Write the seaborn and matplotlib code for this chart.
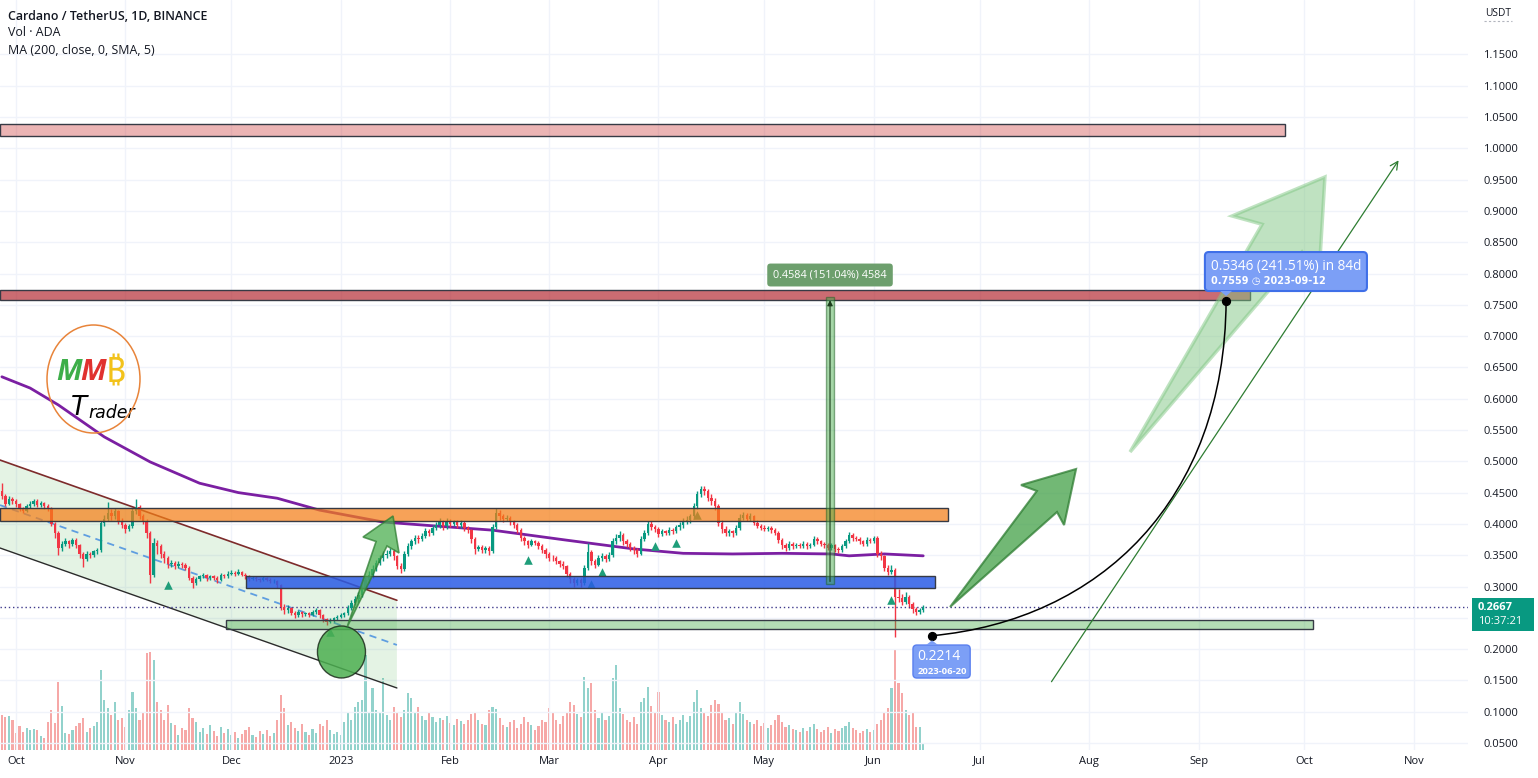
import numpy as np
import pandas as pd
import matplotlib
matplotlib.use("Agg")
import matplotlib.pyplot as plt
import seaborn as sns
from matplotlib.patches import Rectangle, Polygon, Ellipse, PathPatch, FancyArrowPatch, FancyBboxPatch
from matplotlib.path import Path

# ---------------- data (days counted from 2022-10-01) ----------------
BASE = pd.Timestamp("2022-10-01")
first_day = -4
first_open = 0.452
close = [0.445, 0.432, 0.440, 0.436, 0.431, 0.424, 0.421, 0.428, 0.432, 0.436,
         0.430, 0.433, 0.428, 0.425, 0.400, 0.385, 0.362, 0.368, 0.372, 0.368,
         0.374, 0.366, 0.352, 0.344, 0.352, 0.350, 0.356, 0.358, 0.401, 0.408,
         0.418, 0.412, 0.420, 0.405, 0.398, 0.392, 0.396, 0.420, 0.427, 0.412,
         0.405, 0.385, 0.318, 0.370, 0.365, 0.352, 0.345, 0.336, 0.338, 0.332,
         0.336, 0.334, 0.330, 0.314, 0.306, 0.312, 0.316, 0.318, 0.313, 0.316,
         0.314, 0.310, 0.318, 0.316, 0.320, 0.322, 0.320, 0.323, 0.319, 0.316,
         0.312, 0.314, 0.312, 0.310, 0.313, 0.311, 0.308, 0.309, 0.302, 0.268,
         0.262, 0.266, 0.258, 0.254, 0.259, 0.256, 0.257, 0.255, 0.259, 0.262,
         0.254, 0.248, 0.244, 0.247, 0.249, 0.252, 0.254, 0.257, 0.266, 0.274,
         0.280, 0.286, 0.298, 0.310, 0.318, 0.328, 0.338, 0.345, 0.350, 0.352,
         0.356, 0.348, 0.333, 0.328, 0.352, 0.365, 0.372, 0.378, 0.376, 0.380,
         0.388, 0.386, 0.394, 0.398, 0.403, 0.396, 0.404, 0.400, 0.403, 0.398,
         0.402, 0.393, 0.390, 0.376, 0.360, 0.363, 0.358, 0.361, 0.357, 0.395,
         0.418, 0.412, 0.408, 0.410, 0.403, 0.398, 0.390, 0.378, 0.372, 0.367,
         0.372, 0.370, 0.365, 0.358, 0.352, 0.346, 0.345, 0.340, 0.336, 0.333,
         0.320, 0.312, 0.306, 0.310, 0.305, 0.330, 0.355, 0.340, 0.335, 0.345,
         0.348, 0.344, 0.350, 0.372, 0.378, 0.383, 0.372, 0.368, 0.362, 0.358,
         0.352, 0.376, 0.386, 0.400, 0.395, 0.392, 0.384, 0.388, 0.386, 0.391,
         0.388, 0.395, 0.398, 0.404, 0.406, 0.412, 0.428, 0.448, 0.455, 0.452,
         0.442, 0.436, 0.428, 0.402, 0.392, 0.385, 0.388, 0.385, 0.394, 0.410,
         0.414, 0.408, 0.412, 0.402, 0.397, 0.394, 0.392, 0.393, 0.390, 0.386,
         0.375, 0.366, 0.362, 0.368, 0.364, 0.367, 0.365, 0.368, 0.364, 0.366,
         0.376, 0.372, 0.368, 0.366, 0.362, 0.366, 0.360, 0.358, 0.364, 0.372,
         0.382, 0.378, 0.376, 0.372, 0.368, 0.375, 0.373, 0.377, 0.352, 0.348,
         0.330, 0.323, 0.326, 0.284, 0.282, 0.276, 0.284, 0.272, 0.264, 0.260,
         0.262, 0.2667]
high = [0.466, 0.448, 0.444, 0.443, 0.439, 0.434, 0.427, 0.432, 0.436, 0.440,
        0.439, 0.437, 0.435, 0.431, 0.427, 0.403, 0.388, 0.372, 0.377, 0.375,
        0.378, 0.377, 0.368, 0.355, 0.356, 0.355, 0.359, 0.362, 0.405, 0.415,
        0.435, 0.424, 0.425, 0.423, 0.409, 0.401, 0.400, 0.425, 0.440, 0.430,
        0.416, 0.408, 0.388, 0.378, 0.375, 0.368, 0.356, 0.348, 0.342, 0.341,
        0.340, 0.339, 0.337, 0.332, 0.317, 0.315, 0.319, 0.322, 0.320, 0.319,
        0.318, 0.316, 0.321, 0.320, 0.324, 0.326, 0.325, 0.328, 0.325, 0.321,
        0.318, 0.317, 0.316, 0.314, 0.316, 0.315, 0.313, 0.312, 0.311, 0.304,
        0.272, 0.270, 0.268, 0.261, 0.262, 0.261, 0.260, 0.259, 0.262, 0.265,
        0.264, 0.256, 0.250, 0.250, 0.252, 0.255, 0.257, 0.260, 0.270, 0.278,
        0.285, 0.292, 0.303, 0.315, 0.324, 0.334, 0.342, 0.350, 0.356, 0.358,
        0.362, 0.360, 0.351, 0.337, 0.356, 0.369, 0.376, 0.383, 0.382, 0.385,
        0.393, 0.392, 0.398, 0.403, 0.409, 0.406, 0.409, 0.408, 0.407, 0.406,
        0.407, 0.405, 0.397, 0.392, 0.379, 0.367, 0.366, 0.365, 0.364, 0.400,
        0.425, 0.422, 0.416, 0.415, 0.413, 0.406, 0.401, 0.393, 0.381, 0.375,
        0.376, 0.375, 0.373, 0.368, 0.361, 0.355, 0.350, 0.348, 0.343, 0.340,
        0.335, 0.323, 0.315, 0.314, 0.313, 0.334, 0.370, 0.358, 0.344, 0.350,
        0.354, 0.352, 0.355, 0.377, 0.384, 0.388, 0.386, 0.376, 0.371, 0.365,
        0.361, 0.380, 0.391, 0.405, 0.404, 0.399, 0.395, 0.392, 0.391, 0.395,
        0.394, 0.399, 0.403, 0.409, 0.412, 0.416, 0.434, 0.453, 0.461, 0.460,
        0.456, 0.447, 0.441, 0.431, 0.406, 0.396, 0.392, 0.391, 0.398, 0.416,
        0.419, 0.418, 0.417, 0.415, 0.406, 0.400, 0.398, 0.397, 0.396, 0.394,
        0.389, 0.378, 0.370, 0.372, 0.371, 0.370, 0.370, 0.372, 0.371, 0.370,
        0.380, 0.379, 0.375, 0.371, 0.369, 0.370, 0.368, 0.363, 0.368, 0.376,
        0.387, 0.385, 0.381, 0.379, 0.375, 0.379, 0.378, 0.381, 0.380, 0.356,
        0.351, 0.334, 0.334, 0.330, 0.296, 0.288, 0.292, 0.287, 0.276, 0.268,
        0.266, 0.270]
low = [0.440, 0.428, 0.430, 0.432, 0.427, 0.420, 0.417, 0.419, 0.425, 0.429,
       0.427, 0.427, 0.424, 0.420, 0.396, 0.378, 0.350, 0.356, 0.364, 0.362,
       0.365, 0.362, 0.345, 0.331, 0.340, 0.346, 0.347, 0.352, 0.355, 0.396,
       0.404, 0.406, 0.408, 0.400, 0.393, 0.386, 0.388, 0.393, 0.416, 0.408,
       0.400, 0.378, 0.305, 0.315, 0.352, 0.346, 0.338, 0.330, 0.331, 0.328,
       0.329, 0.330, 0.326, 0.310, 0.298, 0.302, 0.309, 0.313, 0.309, 0.310,
       0.311, 0.306, 0.308, 0.313, 0.314, 0.318, 0.317, 0.318, 0.316, 0.312,
       0.309, 0.310, 0.309, 0.307, 0.308, 0.308, 0.305, 0.305, 0.298, 0.262,
       0.256, 0.258, 0.254, 0.250, 0.251, 0.252, 0.253, 0.252, 0.253, 0.256,
       0.250, 0.244, 0.238, 0.241, 0.244, 0.246, 0.249, 0.251, 0.255, 0.262,
       0.270, 0.276, 0.283, 0.294, 0.305, 0.314, 0.324, 0.334, 0.340, 0.346,
       0.349, 0.343, 0.328, 0.322, 0.325, 0.348, 0.360, 0.368, 0.370, 0.372,
       0.377, 0.381, 0.382, 0.390, 0.394, 0.391, 0.392, 0.395, 0.396, 0.394,
       0.394, 0.389, 0.385, 0.370, 0.352, 0.356, 0.353, 0.354, 0.350, 0.354,
       0.392, 0.406, 0.403, 0.404, 0.399, 0.393, 0.385, 0.372, 0.367, 0.362,
       0.364, 0.366, 0.360, 0.353, 0.345, 0.341, 0.341, 0.336, 0.331, 0.328,
       0.315, 0.306, 0.300, 0.302, 0.300, 0.302, 0.327, 0.335, 0.330, 0.332,
       0.340, 0.339, 0.341, 0.347, 0.368, 0.372, 0.366, 0.363, 0.357, 0.352,
       0.347, 0.350, 0.372, 0.382, 0.390, 0.387, 0.379, 0.380, 0.382, 0.383,
       0.384, 0.385, 0.391, 0.394, 0.400, 0.402, 0.408, 0.424, 0.443, 0.446,
       0.437, 0.430, 0.422, 0.397, 0.386, 0.380, 0.381, 0.379, 0.382, 0.391,
       0.406, 0.404, 0.404, 0.398, 0.393, 0.390, 0.388, 0.388, 0.386, 0.382,
       0.370, 0.360, 0.356, 0.358, 0.360, 0.361, 0.361, 0.362, 0.360, 0.361,
       0.364, 0.368, 0.364, 0.362, 0.358, 0.358, 0.355, 0.354, 0.355, 0.361,
       0.369, 0.373, 0.372, 0.368, 0.364, 0.365, 0.369, 0.370, 0.347, 0.343,
       0.325, 0.318, 0.320, 0.220, 0.276, 0.270, 0.272, 0.266, 0.258, 0.255,
       0.256, 0.259]
volume = [350, 330, 340, 300, 170, 240, 180, 220, 200, 210,
          200, 140, 120, 280, 400, 270, 680, 440, 170, 160,
          200, 240, 270, 320, 180, 220, 240, 280, 800, 500,
          420, 350, 480, 300, 320, 230, 400, 580, 420, 300,
          370, 970, 980, 900, 480, 400, 300, 450, 270, 250,
          150, 220, 200, 420, 320, 280, 180, 220, 160, 250,
          190, 140, 230, 170, 210, 150, 180, 120, 160, 200,
          230, 150, 130, 190, 160, 200, 140, 170, 300, 550,
          420, 250, 280, 220, 190, 260, 180, 150, 210, 170,
          260, 240, 300, 200, 160, 180, 150, 280, 380, 300,
          430, 480, 500, 950, 370, 620, 400, 380, 720, 350,
          300, 430, 380, 330, 400, 570, 520, 380, 430, 340,
          300, 380, 330, 280, 320, 300, 340, 270, 250, 310,
          290, 260, 300, 360, 380, 300, 260, 250, 400, 430,
          410, 320, 250, 230, 280, 300, 220, 260, 330, 280,
          250, 200, 240, 300, 280, 420, 380, 300, 260, 340,
          370, 480, 450, 360, 330, 730, 620, 670, 400, 320,
          380, 300, 340, 720, 850, 420, 360, 300, 280, 330,
          260, 480, 520, 630, 440, 380, 580, 350, 300, 280,
          330, 260, 300, 350, 280, 340, 480, 600, 420, 380,
          340, 450, 500, 460, 380, 300, 320, 260, 380, 480,
          360, 300, 280, 260, 300, 240, 270, 220, 250, 300,
          350, 280, 230, 250, 210, 200, 180, 220, 190, 230,
          260, 210, 180, 200, 230, 170, 210, 190, 220, 240,
          280, 220, 200, 170, 190, 210, 180, 200, 260, 300,
          380, 420, 620, 1000, 670, 570, 400, 350, 370, 230,
          230, 70]

# 200-day SMA (sampled)
ma_days = [-4, 4, 12, 25, 38, 52, 63, 74, 86, 104, 118, 135, 156, 175, 189, 203, 217, 231, 236, 246, 257]
ma_vals = [0.635, 0.617, 0.590, 0.539, 0.499, 0.465, 0.450, 0.441, 0.422, 0.403, 0.397, 0.390,
           0.374, 0.360, 0.353, 0.352, 0.353, 0.352, 0.349, 0.352, 0.349]

# signal markers
marker_days = [43, 89, 145, 163, 166, 181, 187, 193, 248]
marker_prices = [0.302, 0.227, 0.342, 0.304, 0.323, 0.365, 0.369, 0.414, 0.278]

# horizontal zones: (start day, end day, low price, high price, color, alpha)
zones = [
    (-4.53, 359.5, 1.020, 1.039, "#c62828", 0.35),
    (-4.53, 349.6, 0.758, 0.774, "#b3262f", 0.68),
    (-4.53, 264.0, 0.405, 0.425, "#f57f17", 0.72),
    (65.2, 260.3, 0.298, 0.317, "#2a5ce6", 0.85),
    (59.5, 367.4, 0.232, 0.2465, "#4caf50", 0.42),
]

last_price = 0.2667
price_ticks = [0.05, 0.10, 0.15, 0.20, 0.30, 0.35, 0.40, 0.45, 0.50, 0.55, 0.60, 0.65, 0.70,
               0.75, 0.80, 0.85, 0.90, 0.95, 1.00, 1.05, 1.10, 1.15]
grid_prices = [0.05 * k for k in range(1, 24)]

# ---------------- figure ----------------
sns.set_theme(style="white")
plt.rcParams['font.family'] = ['Open Sans', 'DejaVu Sans']
TXT = "#131722"

W, H = 1538, 778
fig = plt.figure(figsize=(W / 100, H / 100), dpi=100)
fig.patch.set_facecolor("white")
rect = [0, 28 / H, 1468 / W, 750 / H]
axv = fig.add_axes(rect)
ax = fig.add_axes(rect)
ax.patch.set_alpha(0)

XMIN, XMAX = -4.533, 411.33
YMIN, YMAX = 0.03882, 1.2369
ax.set_xlim(XMIN, XMAX)
ax.set_ylim(YMIN, YMAX)
axv.set_xlim(XMIN, XMAX)
axv.set_ylim(0, 7500)

days = np.arange(first_day, first_day + len(close))
opens = [first_open] + close[:-1]
up = [c >= o for o, c in zip(opens, close)]
cand_col = ["#089981" if u else "#f23645" for u in up]
vol_col = ["#26a69a" if u else "#ef5350" for u in up]

# grid
for gp in grid_prices:
    ax.axhline(gp, color="#f0f3fa", lw=1, zorder=0)
months = pd.date_range("2022-10-01", "2023-11-01", freq="MS")
month_days = [(m - BASE).days for m in months]
month_labels = ["2023" if (m.month == 1) else m.strftime("%b") for m in months]
for md in month_days:
    ax.axvline(md, color="#f0f3fa", lw=1, zorder=0)

# volume
axv.bar(days, volume, width=0.6, color=vol_col, alpha=0.5, linewidth=0)
axv.xaxis.set_visible(False)
axv.yaxis.set_visible(False)
for s in axv.spines.values():
    s.set_visible(False)

# descending channel
ch_x0, ch_x1 = -4.53, 107.9
ax.add_patch(Polygon([(ch_x0, 0.502), (ch_x1, 0.278), (ch_x1, 0.1379), (ch_x0, 0.3615)],
                     closed=True, facecolor="#4caf50", alpha=0.15, edgecolor="none", zorder=1))
ax.plot([ch_x0, ch_x1], [0.502, 0.278], color="#7d2b2b", lw=1.2, zorder=2)
ax.plot([ch_x0, ch_x1], [0.3615, 0.1379], color="#2b2b2b", lw=1.0, zorder=2)
ax.plot([ch_x0, ch_x1], [0.430, 0.2066], color="#5f9ee0", lw=1.3, ls=(0, (4, 3)), zorder=2)

# moving average
sns.lineplot(x=ma_days, y=ma_vals, ax=ax, color="#7b1fa2", linewidth=2, zorder=2, legend=False)

# candles
ax.vlines(days, low, high, colors=cand_col, lw=1, zorder=3)
body_bottom = [min(o, c) for o, c in zip(opens, close)]
body_h = [max(abs(c - o), 0.0012) for o, c in zip(opens, close)]
ax.bar(days, body_h, bottom=body_bottom, width=0.68, color=cand_col, linewidth=0, zorder=4)

# signal markers
ax.scatter(marker_days, marker_prices, marker="^", s=38, color="#1f9e7a", zorder=5, linewidths=0)

# zones
for d0, d1, p0, p1, col, a in zones:
    ax.add_patch(Rectangle((d0, p0), d1 - d0, p1 - p0, facecolor=col, alpha=a,
                           edgecolor="none", zorder=5))
    ax.add_patch(Rectangle((d0, p0), d1 - d0, p1 - p0, facecolor="none",
                           edgecolor="#363a45", lw=1, zorder=5))

# current price line
ax.axhline(last_price, color="#3f3a8c", lw=1, ls=(0, (1, 2)), zorder=3)

# circle
ax.add_patch(Ellipse((92.2, 0.1954), 13.6, 0.083, facecolor="#4caf50", alpha=0.85,
                     edgecolor="#1d2d1d", lw=1, zorder=6))

# green arrows
arrow_a = [(93.8, 0.2353), (105.1, 0.3647), (108.5, 0.3535), (106.8, 0.4126), (98.3, 0.379), (102.0, 0.3719)]
ax.add_patch(Polygon(arrow_a, closed=True, facecolor="#4caf50", alpha=0.75, edgecolor="#2e7d32", lw=1.2, zorder=6))
arrow_b = [(264.6, 0.2673), (294.9, 0.419), (296.9, 0.3982), (300.3, 0.4877), (284.7, 0.4621), (289.2, 0.4526)]
ax.add_patch(Polygon(arrow_b, closed=True, facecolor="#43a047", alpha=0.75, edgecolor="#2e7d32", lw=1.5, zorder=6))
arrow_c = [(315.6, 0.5149), (364.3, 0.8343), (369.1, 0.7944), (370.8, 0.9542), (344.5, 0.8919), (353.0, 0.8786)]
ax.add_patch(Polygon(arrow_c, closed=True, facecolor="#81c784", alpha=0.5, edgecolor="#81c784", lw=2.5, zorder=6))

# thin projection arrow
ax.add_patch(FancyArrowPatch((292.9, 0.1442), (392.1, 0.9845), arrowstyle="->", mutation_scale=14,
                             color="#2e7d32", lw=0.9, zorder=6))

# measured-move column
ax.add_patch(Rectangle((229.5, 0.3035), 2.2, 0.4584, facecolor="#4caf50", alpha=0.5,
                       edgecolor="#1b5e20", lw=1, zorder=6))
ax.add_patch(FancyArrowPatch((230.6, 0.3035), (230.6, 0.7619), arrowstyle="-|>", mutation_scale=8,
                             color="#1b3d1b", lw=0.8, zorder=7))
ax.text(230.6, 0.7976, "0.4584 (151.04%) 4584", ha="center", va="center", color="white",
        fontsize=7.8, zorder=9,
        bbox=dict(boxstyle="round,pad=0.55,rounding_size=0.3", fc="#6d9f6d", ec="none"))

# curved projection path
curve = Path([(259.5, 0.2214), (307.1, 0.2465), (342.5, 0.438), (342.8, 0.7559)],
             [Path.MOVETO, Path.CURVE4, Path.CURVE4, Path.CURVE4])
ax.add_patch(PathPatch(curve, facecolor="none", edgecolor="black", lw=1.1, zorder=7))
ax.scatter([259.5, 342.8], [0.2214, 0.7559], s=32, color="black", zorder=8)

# price/date labels
asp = (1 / 626) / (1 / 3.53)
ax.add_patch(FancyBboxPatch((254.1, 0.1538), 16.2, 0.0527, boxstyle="round,pad=0,rounding_size=1.1",
                            mutation_aspect=asp, fc="#7c9ff6", ec="#5a80ef", lw=1, zorder=8))
ax.add_patch(Polygon([(257.8, 0.2065), (261.2, 0.2065), (259.5, 0.2140)], closed=True,
                     fc="#7c9ff6", ec="none", zorder=8))
ax.text(255.3, 0.1885, "0.2214", color="white", fontsize=10, va="center", ha="left", zorder=9)
ax.text(255.3, 0.1650, "2023-06-20", color="white", fontsize=6.8, fontweight="bold",
        va="center", ha="left", zorder=9)

ax.add_patch(FancyBboxPatch((336.8, 0.7720), 45.9, 0.0623, boxstyle="round,pad=0,rounding_size=1.1",
                            mutation_aspect=asp, fc="#7c9ff6", ec="#3f6fe8", lw=1.5, zorder=8))
ax.add_patch(Polygon([(341.1, 0.7722), (344.5, 0.7722), (342.8, 0.7640)], closed=True,
                     fc="#7c9ff6", ec="none", zorder=8))
ax.text(338.6, 0.8115, "0.5346 (241.51%) in 84d", color="white", fontsize=9.8, va="center",
        ha="left", zorder=9)
ax.text(338.6, 0.7880, "0.7559 \u25F7 2023-09-12", color="white", fontsize=7.0, fontweight="bold",
        va="center", ha="left", zorder=9, family=["DejaVu Sans"])

# axes styling
ax.yaxis.tick_right()
ax.set_yticks(price_ticks)
ax.set_yticklabels([f"{p:.4f}" for p in price_ticks])
ax.tick_params(axis="y", length=0, pad=11, labelsize=8, labelcolor=TXT)
ax.set_xticks(month_days)
ax.set_xticklabels(month_labels)
ax.tick_params(axis="x", length=0, pad=4, labelsize=8, labelcolor=TXT)
ax.grid(False)
for s in ax.spines.values():
    s.set_visible(False)
ax.set_xlabel("")
ax.set_ylabel("")

# price tag
def fx(x):
    return x / W

def fy(y):
    return 1 - y / H

fig.patches.append(Rectangle((fx(1472), fy(631)), 62 / W, 33 / H, transform=fig.transFigure,
                             facecolor="#089981", edgecolor="none", zorder=10))
fig.text(fx(1478), fy(607.5), f"{last_price:.4f}", color="white", fontsize=8, fontweight="bold",
         va="center", ha="left", zorder=11)
fig.text(fx(1478), fy(622), "10:37:21", color="white", fontsize=8, va="center", ha="left", zorder=11)
fig.text(fx(1498), fy(13), "USDT", color=TXT, fontsize=7.3, va="center", ha="center")
fig.lines.append(plt.Line2D([fx(1484), fx(1512)], [fy(21), fy(21)], transform=fig.transFigure,
                            color="#b2b5be", lw=0.8, ls=(0, (2, 2))))

# header
fig.text(fx(8), fy(16), "Cardano / TetherUS, 1D, BINANCE", color=TXT, fontsize=8.9,
         fontweight="semibold", va="center", ha="left")
fig.text(fx(8), fy(33), "Vol \u00b7 ADA", color=TXT, fontsize=8.9, va="center", ha="left")
fig.text(fx(8), fy(50), "MA (200, close, 0, SMA, 5)", color=TXT, fontsize=8.9, va="center", ha="left")

# logo
fig.patches.append(Ellipse((fx(93.5), fy(379)), 93 / W, 108 / H, transform=fig.transFigure,
                           fill=False, edgecolor="#e8843a", lw=1.1, zorder=10))
fig.text(fx(69), fy(373), "M", color="#3dae49", fontsize=21, fontweight="bold", style="italic",
         ha="center", va="center")
fig.text(fx(93), fy(373), "M", color="#e0312f", fontsize=21, fontweight="bold", style="italic",
         ha="center", va="center")
fig.text(fx(116), fy(373), "\u20bf", color="#f2c21b", fontsize=25, fontweight="bold",
         ha="center", va="center", family=["DejaVu Sans", "Noto Sans", "Roboto"])
fig.text(fx(79), fy(408), "T", color="black", fontsize=19, style="italic", ha="center", va="center",
         family=["DejaVu Sans"])
fig.text(fx(88), fy(413), "rader", color="black", fontsize=12.5, style="italic", ha="left", va="center",
         family=["DejaVu Sans"])

fig.savefig("out.png", dpi=100, facecolor="white")
